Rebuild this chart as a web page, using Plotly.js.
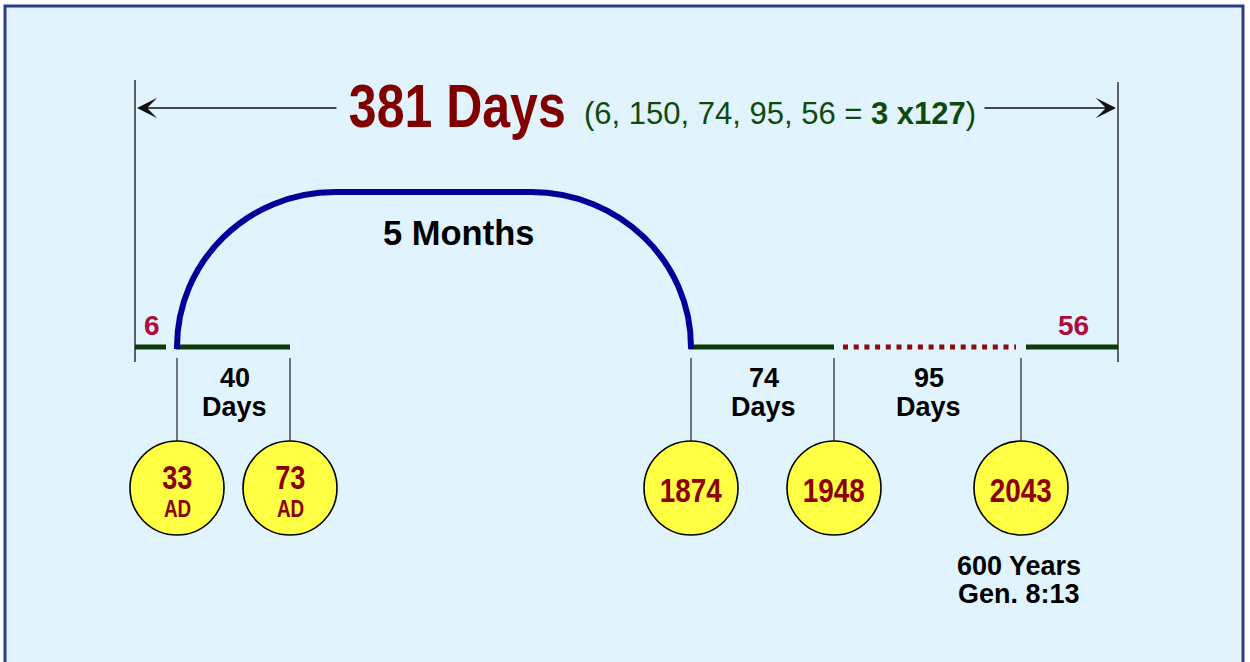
<!DOCTYPE html>
<html>
<head>
<meta charset="utf-8">
<script src="https://cdn.plot.ly/plotly-3.0.1.min.js"></script>
<style>
  html, body { margin: 0; padding: 0; background: #ffffff; }
  #chart { width: 1250px; height: 662px; }
</style>
</head>
<body>
<div id="chart"></div>
<script>
// ---------------- DATA ----------------
const segmentDays   = [6, 150, 74, 95, 56];          // the five periods
const totalDays     = 381;                           // 6+150+74+95+56
const factorText    = '3 x127';
const segmentNames  = ['6', '5 Months', '74', '95', '56'];
const spanNumbers   = ['40', '74', '95'];
const spanUnit      = 'Days';
const yearLabels    = ['33', '73', '1874', '1948', '2043'];
const eraLabels     = ['AD', 'AD', '', '', ''];
const noteLines     = ['600 Years', 'Gen. 8:13'];

// ---------------- SCHEMATIC LAYOUT (positions, not data) ----------------
const EDGE_L = 135, EDGE_R = 1118;
const NODE_X = [177, 290, 691, 834, 1021];
const LINE_Y = 347, ARC_TOP = 192, FLAT_L = 335, FLAT_R = 531;
const CIRCLE_Y = 488, CIRCLE_D = 94;
const ARROW_Y = 108;

const GREEN = '#0b3a0b', RED_DOT = '#8b0a0a', CRIMSON = '#ac0c3c', DARKRED = '#8b0000';
const ARIAL = '"Liberation Sans", Arial, sans-serif';
const NARROW_SCALE = 0.82;

const traces = [];

// timeline segments (solid)
const solidSegs = [[EDGE_L, 166], [NODE_X[0] - 1, NODE_X[1]], [NODE_X[2] - 2, NODE_X[3]], [NODE_X[4] + 5, EDGE_R]];
solidSegs.forEach(s => traces.push({
  x: s, y: [LINE_Y, LINE_Y], mode: 'lines', type: 'scatter',
  line: {color: GREEN, width: 5}, hoverinfo: 'skip', showlegend: false
}));
// dotted segment (95 days, future)
traces.push({
  x: [NODE_X[3] + 9, NODE_X[4] - 5], y: [LINE_Y, LINE_Y], mode: 'lines', type: 'scatter',
  line: {color: RED_DOT, width: 5, dash: '5px,5.7px'}, hoverinfo: 'skip', showlegend: false
});
// drop lines from timeline to circles
NODE_X.forEach(x => traces.push({
  x: [x, x], y: [358, CIRCLE_Y - CIRCLE_D / 2], mode: 'lines', type: 'scatter',
  line: {color: '#333333', width: 1.3}, hoverinfo: 'skip', showlegend: false
}));
// year circles
traces.push({
  x: NODE_X, y: NODE_X.map(() => CIRCLE_Y), mode: 'markers', type: 'scatter',
  marker: {size: CIRCLE_D, color: '#ffff44', line: {color: '#000000', width: 1.6}},
  hoverinfo: 'skip', showlegend: false
});

// ---------------- SHAPES ----------------
const k = 0.5523;
const rxL = FLAT_L - NODE_X[0], ryL = LINE_Y - ARC_TOP;
const rxR = NODE_X[2] - FLAT_R, ryR = LINE_Y - ARC_TOP;
const arcPath =
  `M ${NODE_X[0]},${LINE_Y + 2} L ${NODE_X[0]},${LINE_Y} ` +
  `C ${NODE_X[0]},${LINE_Y - k * ryL} ${FLAT_L - k * rxL},${ARC_TOP} ${FLAT_L},${ARC_TOP} ` +
  `L ${FLAT_R},${ARC_TOP} ` +
  `C ${FLAT_R + k * rxR},${ARC_TOP} ${NODE_X[2]},${LINE_Y - k * ryR} ${NODE_X[2]},${LINE_Y} L ${NODE_X[2]},${LINE_Y + 2}`;

const shapes = [
  {type: 'rect', xref: 'x', yref: 'y', x0: 5, y0: 6, x1: 1243, y1: 720,
   fillcolor: '#e1f3fd', line: {color: '#2b3d80', width: 3}, layer: 'below'},
  {type: 'line', x0: EDGE_L, x1: EDGE_L, y0: 80, y1: 362, line: {color: '#222222', width: 1.4}},
  {type: 'line', x0: EDGE_R, x1: EDGE_R, y0: 82, y1: 362, line: {color: '#222222', width: 1.4}},
  {type: 'path', path: arcPath, line: {color: '#000099', width: 6}}
];

// ---------------- ANNOTATIONS ----------------
const ann = [];
const narrowIdx = [];
// span arrows
ann.push({x: EDGE_L + 2, y: ARROW_Y, ax: 338, ay: ARROW_Y, axref: 'x', ayref: 'y', xref: 'x', yref: 'y',
  text: '', showarrow: true, arrowhead: 3, arrowsize: 2.6, arrowwidth: 1.3, arrowcolor: '#111111', standoff: 0});
ann.push({x: EDGE_R - 2, y: ARROW_Y, ax: 983, ay: ARROW_Y, axref: 'x', ayref: 'y', xref: 'x', yref: 'y',
  text: '', showarrow: true, arrowhead: 3, arrowsize: 2.6, arrowwidth: 1.3, arrowcolor: '#111111', standoff: 0});
// title (condensed)
narrowIdx.push(ann.length);
ann.push({x: 457, y: 106, text: `<b>${totalDays} Days</b>`, showarrow: false, xanchor: 'center', yanchor: 'middle',
  font: {family: ARIAL, size: 61, color: '#800000'}});
ann.push({x: 582, y: 113, xanchor: 'left', yanchor: 'middle', showarrow: false,
  text: `(${segmentDays.join(', ')} = <b>${factorText}</b>)`,
  font: {family: ARIAL, size: 31, color: '#0d4a0d'}});
// 5 months
ann.push({x: 458, y: 233, text: `<b>${segmentNames[1]}</b>`, showarrow: false,
  font: {family: ARIAL, size: 34.5, color: '#000000'}});
// 6 and 56
ann.push({x: 152, y: 325, text: `<b>${segmentNames[0]}</b>`, showarrow: false,
  font: {family: ARIAL, size: 28, color: CRIMSON}});
ann.push({x: 1073, y: 325, text: `<b>${segmentNames[4]}</b>`, showarrow: false,
  font: {family: ARIAL, size: 28, color: CRIMSON}});
// span labels between nodes
const spanPairs = [[0, 1], [2, 3], [3, 4]];
spanPairs.forEach((p, i) => {
  const cx = (NODE_X[p[0]] + NODE_X[p[1]]) / 2;
  ann.push({x: cx + 1, y: 378, text: `<b>${spanNumbers[i]}</b>`, showarrow: false,
    font: {family: ARIAL, size: 27, color: '#000000'}});
  ann.push({x: cx + 1, y: 407, text: `<b>${spanUnit}</b>`, showarrow: false,
    font: {family: ARIAL, size: 27, color: '#000000'}});
});
// circle texts (condensed)
yearLabels.forEach((yl, i) => {
  if (eraLabels[i]) {
    narrowIdx.push(ann.length);
    ann.push({x: NODE_X[i], y: 477, text: `<b>${yl}</b>`, showarrow: false,
      font: {family: ARIAL, size: 33, color: DARKRED}});
    narrowIdx.push(ann.length);
    ann.push({x: NODE_X[i], y: 509, text: `<b>${eraLabels[i]}</b>`, showarrow: false,
      font: {family: ARIAL, size: 23, color: DARKRED}});
  } else {
    narrowIdx.push(ann.length);
    ann.push({x: NODE_X[i], y: 490, text: `<b>${yl}</b>`, showarrow: false,
      font: {family: ARIAL, size: 34, color: DARKRED}});
  }
});
// note under 2043
noteLines.forEach((t, j) => ann.push({x: NODE_X[4] - 2, y: 566 + 28 * j, text: `<b>${t}</b>`, showarrow: false,
  font: {family: ARIAL, size: 27, color: '#000000'}}));

const layout = {
  width: 1250, height: 662,
  margin: {l: 0, r: 0, t: 0, b: 0, pad: 0},
  paper_bgcolor: '#ffffff', plot_bgcolor: 'rgba(0,0,0,0)',
  xaxis: {range: [0, 1250], visible: false, fixedrange: true},
  yaxis: {range: [662, 0], visible: false, fixedrange: true},
  shapes: shapes, annotations: ann, showlegend: false
};

Plotly.newPlot('chart', traces, layout, {displayModeBar: false, staticPlot: true}).then(gd => {
  // emulate a narrow (condensed) bold face by compressing those texts horizontally
  narrowIdx.forEach(i => {
    const t = gd.querySelector(`.annotation[data-index="${i}"] text.annotation-text`);
    if (!t) return;
    const bb = t.getBBox();
    const cx = bb.x + bb.width / 2;
    t.setAttribute('transform', `translate(${cx},0) scale(${NARROW_SCALE},1) translate(${-cx},0)`);
  });
});
</script>
</body>
</html>
